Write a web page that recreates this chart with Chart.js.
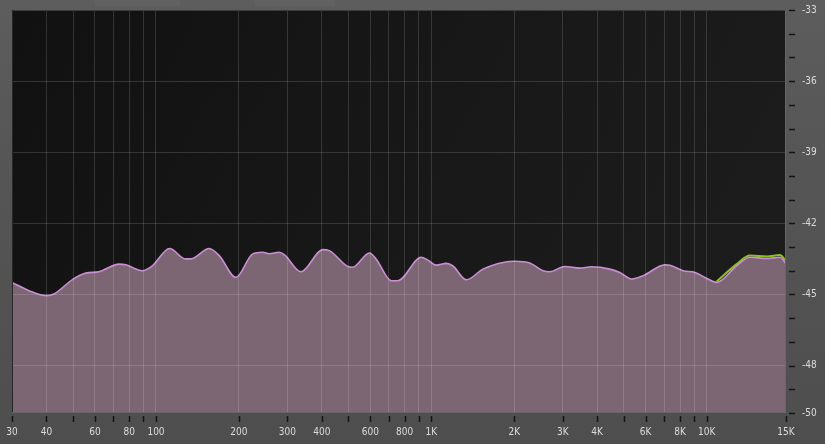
<!DOCTYPE html>
<html>
<head>
<meta charset="utf-8">
<script src="https://cdn.jsdelivr.net/npm/chart.js@4.4.1/dist/chart.umd.min.js"></script>
<style>
    html, body { margin: 0; padding: 0; }
    body {
        width: 825px;
        height: 444px;
        overflow: hidden;
        background: linear-gradient(180deg, #5d5d5d 0%, #555555 40%, #4e4e4e 100%);
    }
    #wrap { position: relative; width: 825px; height: 444px; }
</style>
</head>
<body>
<div id="wrap"><canvas id="spectrum"></canvas></div>
<script>
// Frequencies (Hz)
const freqs = [30, 34.6, 40, 42.6, 50, 55.6, 62, 73.5, 77.7, 89.3, 97, 112, 128, 134, 156, 170, 195,
    224, 244, 258, 280, 293, 336, 403, 426, 497, 518, 596, 630, 715, 755, 919, 971, 1042, 1133,
    1198, 1340, 1539, 1820, 2008, 2276, 2544, 2690, 3050, 3459, 3816, 4449, 4836, 5334, 5877,
    7047, 7350, 8214, 9060, 9852, 10866, 12840, 14360, 16520, 18460, 19400];

// Level (dB) of the main (pink) curve
const levels = [-44.49, -44.84, -45.05, -44.98, -44.35, -44.10, -44.04, -43.72, -43.75, -44.00, -43.79,
    -43.06, -43.50, -43.50, -43.06, -43.37, -44.28, -43.30, -43.22, -43.28, -43.22, -43.33, -44.04,
    -43.11, -43.15, -43.82, -43.85, -43.25, -43.50, -44.42, -44.42, -43.43, -43.55, -43.76, -43.69,
    -43.80, -44.38, -43.93, -43.65, -43.60, -43.67, -44.00, -44.04, -43.82, -43.89, -43.83, -43.93,
    -44.07, -44.35, -44.21, -43.75, -43.77, -44.00, -44.07, -44.28, -44.49, -43.79, -43.43, -43.48,
    -43.43, -43.70];

// Second (green) curve, only visible at the top end
const greenFreqs = [10866, 12840, 14360, 16520, 18460, 19400];
const greenLevels = [-44.45, -43.72, -43.36, -43.40, -43.34, -43.60];

// Axis ticks
const xTickValues = [30, 40, 50, 60, 70, 80, 90, 100, 200, 300, 400, 500, 600, 700, 800, 900,
    1000, 2000, 3000, 4000, 5000, 6000, 7000, 8000, 9000, 10000, 19400];
const xTickLabels = ['30', '40', '', '60', '', '80', '', '100', '200', '300', '400', '', '600', '', '800', '',
    '1K', '2K', '3K', '4K', '', '6K', '', '8K', '', '10K', '15K'];
const yTickValues = [-33, -34, -35, -36, -37, -38, -39, -40, -41, -42, -43, -44, -45, -46, -47, -48, -49, -50];
const yTickLabels = ['-33', '', '', '-36', '', '', '-39', '', '', '-42', '', '', '-45', '', '', '-48', '', '-50'];

document.addEventListener('DOMContentLoaded', function() {
    const ctx = document.getElementById('spectrum').getContext('2d');
    const labelFont = "10px 'Liberation Sans Narrow', 'DejaVu Sans Condensed', sans-serif";

    // Dark plot background, frame, tick marks and labels
    const plotDecor = {
        id: 'plotDecor',
        beforeDraw(chart) {
            const a = chart.chartArea;
            const c = chart.ctx;
            c.save();
            const g = c.createLinearGradient(a.left, a.top, a.right, a.bottom);
            g.addColorStop(0, '#111111');
            g.addColorStop(0.5, '#181818');
            g.addColorStop(1, '#1d1d1d');
            c.fillStyle = g;
            c.fillRect(a.left, a.top, a.right - a.left, a.bottom - a.top);
            // faint tabs along the top edge
            c.fillStyle = 'rgba(255,255,255,0.035)';
            c.fillRect(95, 0, 85, 6);
            c.fillRect(255, 0, 80, 6);
            c.restore();
        },
        afterDraw(chart) {
            const a = chart.chartArea;
            const c = chart.ctx;
            const xs = chart.scales.x;
            const ys = chart.scales.y;
            c.save();
            c.lineWidth = 1;
            c.strokeStyle = '#3c3c3c';
            c.beginPath();
            c.moveTo(a.left, a.top + 0.5);
            c.lineTo(a.right, a.top + 0.5);
            c.stroke();
            c.strokeStyle = '#262626';
            c.beginPath();
            c.moveTo(a.left + 0.5, a.top);
            c.lineTo(a.left + 0.5, a.bottom);
            c.stroke();
            c.strokeStyle = '#666666';
            c.beginPath();
            c.moveTo(a.right - 0.5, a.top);
            c.lineTo(a.right - 0.5, a.bottom);
            c.moveTo(a.left, a.bottom - 0.5);
            c.lineTo(a.right, a.bottom - 0.5);
            c.stroke();

            // short dark tick marks, a little away from the plot
            c.strokeStyle = '#141414';
            c.lineWidth = 1.5;
            c.beginPath();
            xTickValues.forEach(v => {
                const px = Math.round(xs.getPixelForValue(v)) + 0.5;
                c.moveTo(px, a.bottom + 3);
                c.lineTo(px, a.bottom + 9);
            });
            yTickValues.forEach(v => {
                const py = Math.round(ys.getPixelForValue(v)) + 0.5;
                c.moveTo(a.right + 3, py);
                c.lineTo(a.right + 9, py);
            });
            c.stroke();

            // tick labels
            c.fillStyle = '#dcdcdc';
            c.font = labelFont;
            c.textBaseline = 'middle';
            c.textAlign = 'center';
            xTickValues.forEach((v, i) => {
                if (xTickLabels[i]) c.fillText(xTickLabels[i], xs.getPixelForValue(v), a.bottom + 19);
            });
            c.textAlign = 'left';
            yTickValues.forEach((v, i) => {
                if (yTickLabels[i]) c.fillText(yTickLabels[i], a.right + 16, ys.getPixelForValue(v));
            });
            c.restore();
        }
    };

    window.spectrumChart = new Chart(ctx, {
        type: 'line',
        data: {
            datasets: [{
                label: 'Spectrum',
                data: freqs.map((f, i) => ({ x: f, y: levels[i] })),
                borderColor: '#c98fd2',
                backgroundColor: '#7d6673',
                borderWidth: 1.6,
                fill: 'start',
                pointRadius: 0,
                cubicInterpolationMode: 'monotone',
                order: 0
            }, {
                label: 'Reference',
                data: greenFreqs.map((f, i) => ({ x: f, y: greenLevels[i] })),
                borderColor: '#8cc21e',
                borderWidth: 2,
                fill: false,
                pointRadius: 0,
                cubicInterpolationMode: 'monotone',
                order: 1
            }]
        },
        options: {
            responsive: true,
            maintainAspectRatio: false,
            animation: false,
            layout: { padding: { left: 12, top: 10, right: 0, bottom: 0 } },
            plugins: {
                legend: { display: false },
                tooltip: { enabled: false }
            },
            scales: {
                x: {
                    type: 'logarithmic',
                    min: 30,
                    max: 19400,
                    afterBuildTicks: scale => {
                        scale.ticks = xTickValues.map(v => ({ value: v }));
                    },
                    afterFit: scale => { scale.height = 31; },
                    grid: {
                        z: 1,
                        drawTicks: false,
                        color: c => (c.tick && (c.tick.value === 30 || c.tick.value === 19400)) ? 'rgba(0,0,0,0)' : 'rgba(255,255,255,0.14)'
                    },
                    border: { display: false },
                    ticks: { display: false, autoSkip: false }
                },
                y: {
                    position: 'right',
                    min: -50,
                    max: -33,
                    afterBuildTicks: scale => {
                        scale.ticks = yTickValues.map(v => ({ value: v }));
                    },
                    afterFit: scale => { scale.width = 39; },
                    grid: {
                        z: 1,
                        drawTicks: false,
                        color: c => {
                            if (!c.tick || c.tick.value === -33 || c.tick.value === -50) return 'rgba(0,0,0,0)';
                            return yTickLabels[yTickValues.indexOf(c.tick.value)] ? 'rgba(255,255,255,0.14)' : 'rgba(0,0,0,0)';
                        }
                    },
                    border: { display: false },
                    ticks: { display: false, autoSkip: false }
                }
            }
        },
        plugins: [plotDecor]
    });
});
</script>
</body>
</html>
